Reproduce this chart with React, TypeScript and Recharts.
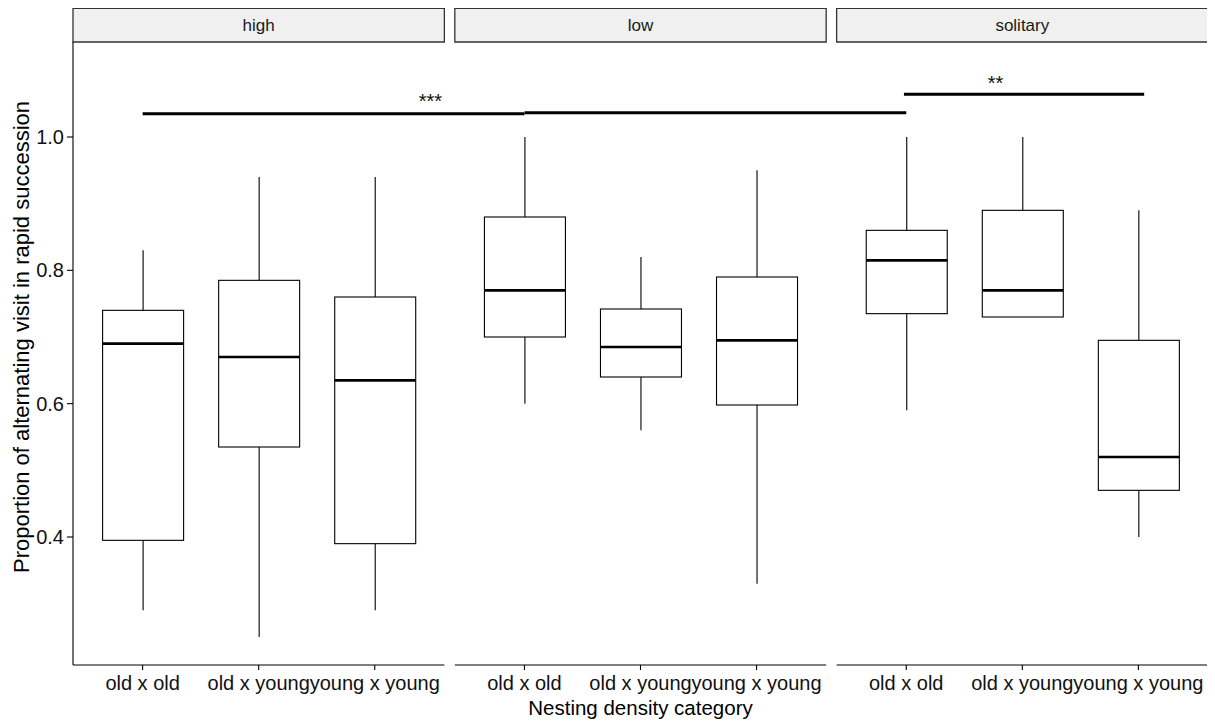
import React from "react";
import {
  ComposedChart,
  Bar,
  Scatter,
  XAxis,
  YAxis,
  ReferenceArea,
  ReferenceLine,
} from "recharts";

const FONT = '"Liberation Sans", Arial, Helvetica, sans-serif';
const INK = "#000000";
const TEXT = "#111111";

const PANELS = ["high", "low", "solitary"];
const GROUPS = ["old x old", "old x young", "young x young"];

// Five-number summaries, three groups per panel (high, low, solitary)
const LOWER = [0.29, 0.25, 0.29, 0.6, 0.56, 0.33, 0.59, 0.73, 0.4];
const Q1 = [0.395, 0.535, 0.39, 0.7, 0.64, 0.598, 0.735, 0.73, 0.47];
const MEDIAN = [0.69, 0.67, 0.635, 0.77, 0.685, 0.695, 0.815, 0.77, 0.52];
const Q3 = [0.74, 0.785, 0.76, 0.88, 0.742, 0.79, 0.86, 0.89, 0.695];
const UPPER = [0.83, 0.94, 0.94, 1.0, 0.82, 0.95, 1.0, 1.0, 0.89];

const Y_TICKS = [0.4, 0.6, 0.8, 1.0];

// Significance brackets (x from / to, height) and their star labels
const SIG_FROM = [0.6, 3.89, 7.16];
const SIG_TO = [3.89, 7.18, 9.23];
const SIG_Y = [1.035, 1.0365, 1.064];
const SIG_TEXT = ["***", "**"];
const SIG_TEXT_X = [3.08, 7.95];
const SIG_TEXT_Y = [1.0435, 1.0705];

// facet layout on one continuous x scale
const PANEL_SPAN = 3.2;
const PANEL_GAP = 0.09;
const PAD = 0.6;
const X_MAX = PANELS.length * PANEL_SPAN + (PANELS.length - 1) * PANEL_GAP;
const Y_MIN = 0.208;
const PANEL_TOP = 1.1425;
const Y_MAX = 1.192;
const STRIP_TOP = 1.193;

const panelStart = (p: number) => p * (PANEL_SPAN + PANEL_GAP);

const rows = LOWER.map((_, i) => {
  const p = Math.floor(i / GROUPS.length);
  const g = i % GROUPS.length;
  return {
    x: panelStart(p) + PAD + g,
    label: GROUPS[g],
    lower: LOWER[i],
    q1: Q1[i],
    median: MEDIAN[i],
    q3: Q3[i],
    upper: UPPER[i],
  };
});

const sigLabels = SIG_TEXT.map((t, i) => ({
  x: SIG_TEXT_X[i],
  y: SIG_TEXT_Y[i],
  text: t,
}));

const xTicks = rows.map((r) => r.x);
const tickLabel = (v: number) => {
  const row = rows.find((r) => Math.abs(r.x - v) < 1e-6);
  return row ? row.label : "";
};

// range bar [lower, upper] gives the pixel span; the rest is placed inside it
function BoxShape(props: any) {
  const { x, y, width, height, payload } = props;
  const { lower, q1, median, q3, upper } = payload;
  const k = height / (upper - lower);
  const py = (v: number) => y + (upper - v) * k;
  const cx = x + width / 2;
  return (
    <g>
      <line x1={cx} x2={cx} y1={py(upper)} y2={py(q3)} stroke={INK} strokeWidth={1.1} />
      <line x1={cx} x2={cx} y1={py(q1)} y2={py(lower)} stroke={INK} strokeWidth={1.1} />
      <rect
        x={x}
        y={py(q3)}
        width={width}
        height={py(q1) - py(q3)}
        fill="#ffffff"
        stroke={INK}
        strokeWidth={1.1}
      />
      <line
        x1={x}
        x2={x + width}
        y1={py(median)}
        y2={py(median)}
        stroke={INK}
        strokeWidth={2.6}
      />
    </g>
  );
}

function StarLabel(props: any) {
  const { cx, cy, payload } = props;
  return (
    <text
      x={cx}
      y={cy}
      textAnchor="middle"
      fontSize={20}
      fontFamily={FONT}
      fill={TEXT}
    >
      {payload.text}
    </text>
  );
}

function YTitle(props: any) {
  const { viewBox } = props;
  const x = viewBox.x + 21;
  const y = viewBox.y + viewBox.height / 2;
  return (
    <text
      x={x}
      y={y}
      transform={`rotate(-90, ${x}, ${y})`}
      textAnchor="middle"
      fontSize={22}
      fontFamily={FONT}
      fill={INK}
    >
      Proportion of alternating visit in rapid succession
    </text>
  );
}

export default function App() {
  return (
    <div style={{ width: 1207, height: 714 }}>
      <ComposedChart
        width={1207}
        height={714}
        data={rows}
        margin={{ top: 1, right: 7, bottom: 0, left: 0 }}
      >
        <XAxis
          type="number"
          dataKey="x"
          domain={[0, X_MAX]}
          ticks={xTicks}
          interval={0}
          tickFormatter={tickLabel}
          axisLine={false}
          tickLine={{ stroke: INK, strokeWidth: 1.1 }}
          tickSize={5}
          tickMargin={6}
          height={57}
          tick={{ fill: TEXT, fontSize: 20, fontFamily: FONT }}
          allowDataOverflow
          label={{
            value: "Nesting density category",
            position: "insideBottom",
            offset: 7,
            fontSize: 20.5,
            fontFamily: FONT,
            fill: INK,
          }}
        />
        {/* separate hidden scale for the star labels so they don't narrow the boxes */}
        <XAxis
          xAxisId="sig"
          type="number"
          dataKey="x"
          domain={[0, X_MAX]}
          hide
          allowDataOverflow
        />
        <YAxis
          type="number"
          domain={[Y_MIN, Y_MAX]}
          ticks={Y_TICKS}
          interval={0}
          tickFormatter={(v: number) => v.toFixed(1)}
          axisLine={false}
          tickLine={{ stroke: INK, strokeWidth: 1.1 }}
          tickSize={6}
          tickMargin={3}
          width={65}
          tick={{ fill: TEXT, fontSize: 20, fontFamily: FONT }}
          allowDataOverflow
          label={YTitle}
        />

        {PANELS.map((name, p) => (
          <ReferenceArea
            key={`strip-${name}`}
            x1={panelStart(p)}
            x2={panelStart(p) + PANEL_SPAN}
            y1={PANEL_TOP}
            y2={STRIP_TOP}
            ifOverflow="visible"
            fill="#f0f0f0"
            fillOpacity={1}
            stroke="#333333"
            strokeWidth={1.3}
            label={{
              value: name,
              position: "center",
              fontSize: 17,
              fontFamily: FONT,
              fill: "#1a1a1a",
            }}
          />
        ))}

        {PANELS.map((name, p) => (
          <ReferenceLine
            key={`axis-${name}`}
            segment={[
              { x: panelStart(p), y: Y_MIN },
              { x: panelStart(p) + PANEL_SPAN, y: Y_MIN },
            ]}
            ifOverflow="visible"
            stroke={INK}
            strokeWidth={1.1}
          />
        ))}
        <ReferenceLine
          segment={[
            { x: 0, y: Y_MIN },
            { x: 0, y: PANEL_TOP },
          ]}
          ifOverflow="visible"
          stroke={INK}
          strokeWidth={1.1}
        />

        <Bar
          dataKey={(d: any) => [d.lower, d.upper]}
          barSize={81}
          shape={BoxShape}
          isAnimationActive={false}
        />

        {SIG_FROM.map((from, i) => (
          <ReferenceLine
            key={`sig-${i}`}
            segment={[
              { x: from, y: SIG_Y[i] },
              { x: SIG_TO[i], y: SIG_Y[i] },
            ]}
            ifOverflow="visible"
            stroke={INK}
            strokeWidth={3}
          />
        ))}

        <Scatter
          xAxisId="sig"
          data={sigLabels}
          dataKey="y"
          shape={StarLabel}
          isAnimationActive={false}
        />
      </ComposedChart>
    </div>
  );
}
